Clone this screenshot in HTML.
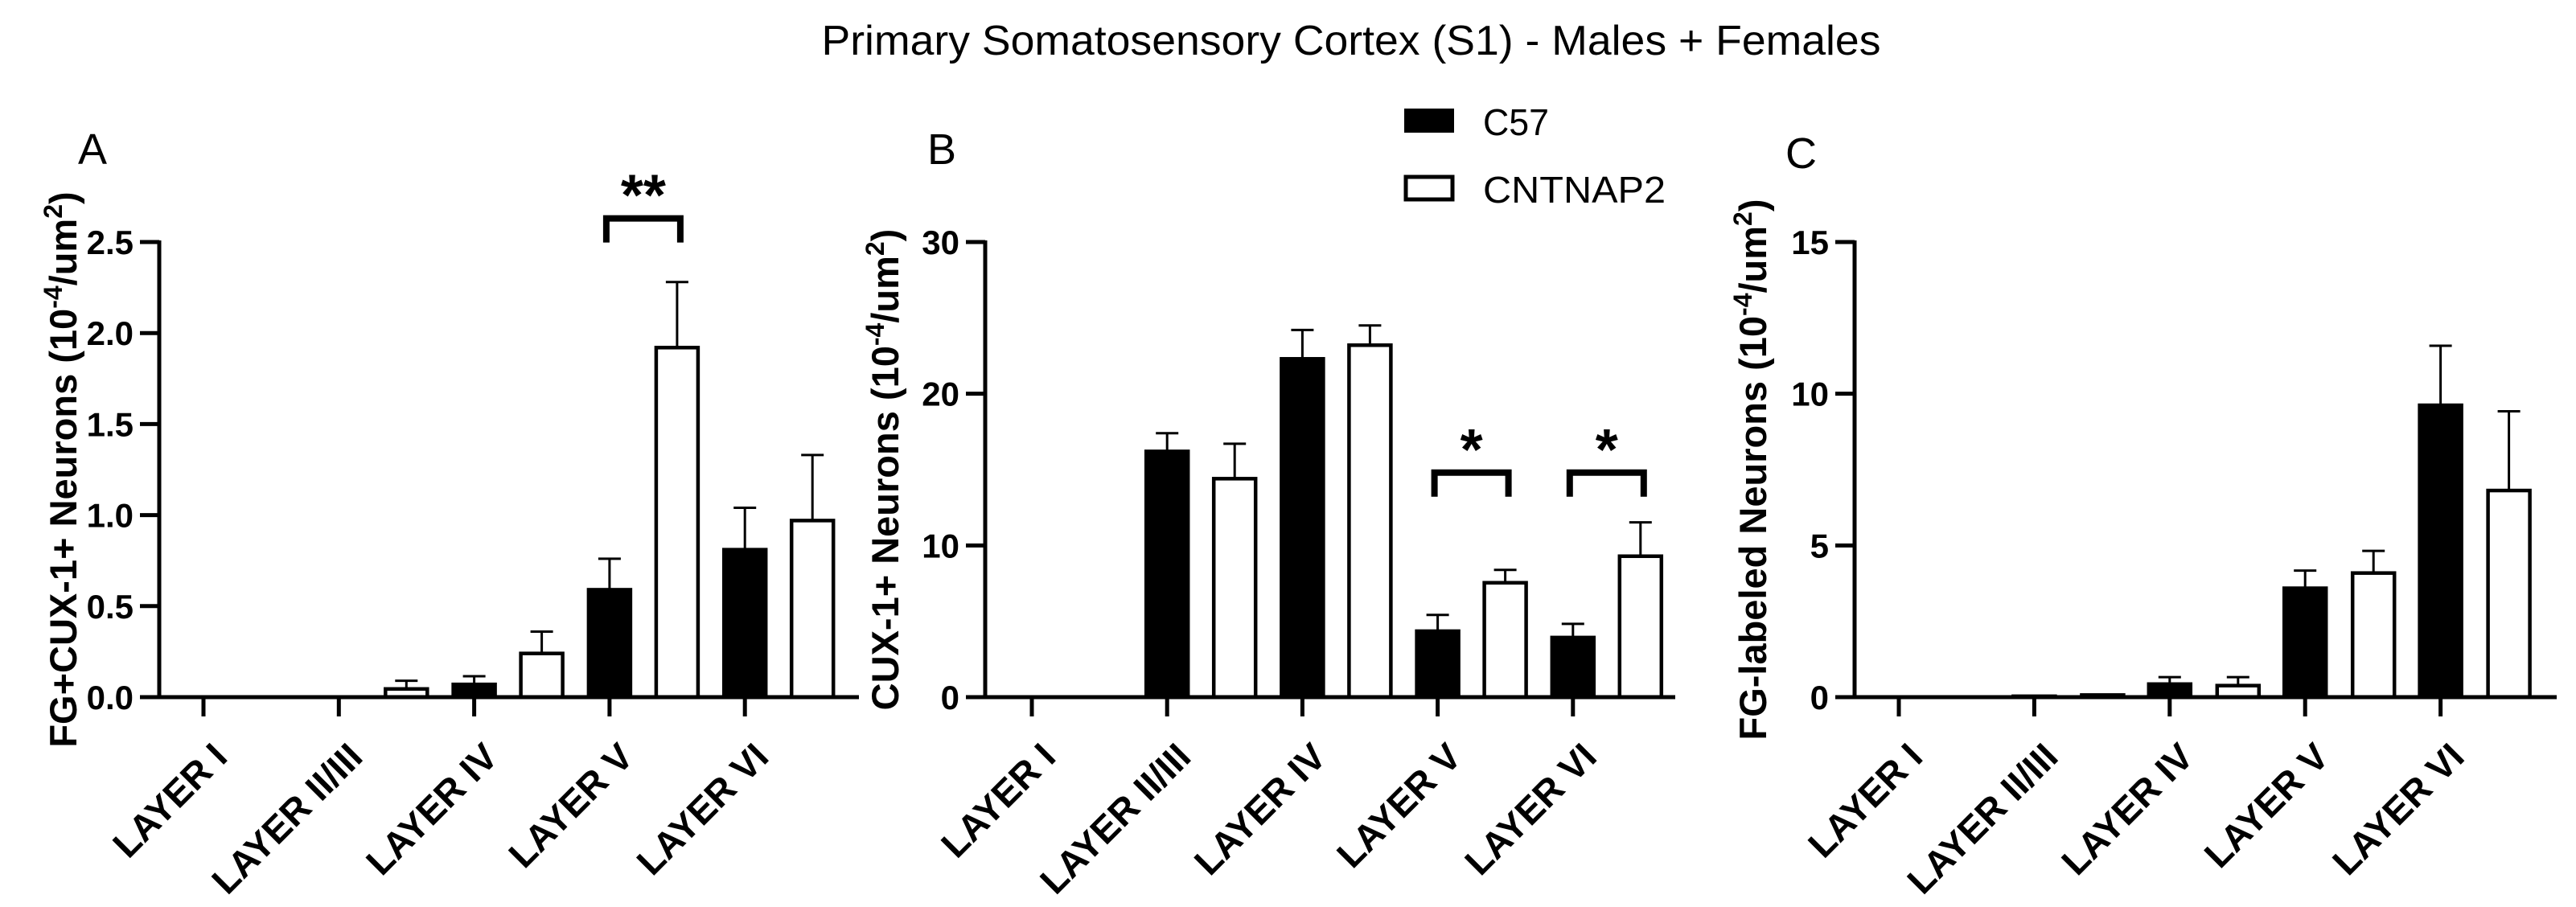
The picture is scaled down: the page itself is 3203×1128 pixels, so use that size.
<!DOCTYPE html>
<html><head><meta charset="utf-8">
<style>
html,body{margin:0;padding:0;background:#fff;}
svg{display:block;}
text{font-family:"Liberation Sans",Arial,sans-serif;fill:#000;}
</style></head>
<body>
<svg id="fig" xmlns="http://www.w3.org/2000/svg" width="3203" height="1128" viewBox="0 0 3203 1128">
<rect width="3203" height="1128" fill="#fff"/>
<text x="1680" y="68" font-size="52" text-anchor="middle" textLength="1317" lengthAdjust="spacingAndGlyphs">Primary Somatosensory Cortex (S1) - Males + Females</text>
<g>
<rect x="1746" y="135" width="62" height="30" fill="#000"/>
<text x="1844" y="168" font-size="46" textLength="82" lengthAdjust="spacingAndGlyphs">C57</text>
<rect x="1748" y="220" width="58" height="28" fill="#fff" stroke="#000" stroke-width="5"/>
<text x="1844" y="252" font-size="46" textLength="227" lengthAdjust="spacingAndGlyphs">CNTNAP2</text>
</g>
<text x="97" y="204" font-size="54">A</text>
<text x="1153" y="204" font-size="54">B</text>
<text x="2220" y="209" font-size="54">C</text>
<g id="panels"></g>
</svg>
<script>
const categories = ["LAYER I","LAYER II/III","LAYER IV","LAYER V","LAYER VI"];
const seriesNames = ["C57","CNTNAP2"];
// Panel A
const aC57 = [0, 0, 0.07, 0.59, 0.81];
const aC57Err = [0, 0, 0.115, 0.76, 1.04];
const aCnt = [0, 0.045, 0.24, 1.92, 0.97];
const aCntErr = [0, 0.09, 0.36, 2.28, 1.33];
const aTicks = ["0.0","0.5","1.0","1.5","2.0","2.5"];
// Panel B
const bC57 = [0, 16.2, 22.3, 4.35, 3.93];
const bC57Err = [0, 17.4, 24.2, 5.42, 4.83];
const bCnt = [0, 14.4, 23.2, 7.54, 9.29];
const bCntErr = [0, 16.7, 24.5, 8.39, 11.52];
const bTicks = ["0","10","20","30"];
// Panel C
const cC57 = [0, 0.03, 0.43, 3.59, 9.62];
const cC57Err = [0, 0, 0.66, 4.17, 11.58];
const cCnt = [0, 0.07, 0.38, 4.09, 6.81];
const cCntErr = [0, 0, 0.66, 4.82, 9.42];
const cTicks = ["0","5","10","15"];

const NS = "http://www.w3.org/2000/svg";
const root = document.getElementById('panels');
function mk(tag, attrs, parent){
  const e = document.createElementNS(NS, tag);
  for (const k in attrs) e.setAttribute(k, attrs[k]);
  parent.appendChild(e); return e;
}
const Y0 = 867, YTOP = 301;

function panel(cfg){
  const g = mk('g', {}, root);
  
  
  const y = v => Y0 - (v / cfg.max) * (Y0 - YTOP);
  const x = i => cfg.x0 + i * cfg.step;
  const drawBar = (i, v, err, dark, nm) => {
    const cx = x(i) + (dark ? 0 : cfg.off);
    if (err > v) {
      const l = mk('line', {x1:cx, x2:cx, y1:y(v), y2:y(err), stroke:'#000','stroke-width':3}, g);
      
      
      const c = mk('line', {x1:cx-14, x2:cx+14, y1:y(err), y2:y(err), stroke:'#000','stroke-width':3}, g);
      
      
    }
    if (v > 0) {
      const h = Y0 - y(v);
      const r = mk('rect', {x:cx-26, y:y(v), width:52, height:h, fill: dark ? '#000' : '#fff', stroke:'#000','stroke-width':4.5}, g);
      
      
    }
  };
  for (let i = 0; i < categories.length; i++) {
    drawBar(i, cfg.c57[i], cfg.c57e[i], true, 'bar-c57-' + i);
    drawBar(i, cfg.cnt[i], cfg.cnte[i], false, 'bar-cntnap2-' + i);
  }
  const ya = mk('line', {x1:cfg.ax, x2:cfg.ax, y1:YTOP-2, y2:Y0+2, stroke:'#000','stroke-width':5}, g);
  
  
  const xa = mk('line', {x1:cfg.ax-24, x2:cfg.xend, y1:Y0, y2:Y0, stroke:'#000','stroke-width':5}, g);
  
  
  cfg.ticks.forEach((t) => {
    const v = parseFloat(t);
    const ty = y(v);
    if (v > 0) {
      const tl = mk('line', {x1:cfg.ax-24, x2:cfg.ax, y1:ty, y2:ty, stroke:'#000','stroke-width':5}, g);
      
      
    }
    const tx = mk('text', {x:cfg.ax-32, y:ty+15, 'font-size':42, 'font-weight':'bold', 'text-anchor':'end'}, g);
    tx.textContent = t;
    
    
  });
  categories.forEach((c, i) => {
    const tx0 = x(i);
    const tl = mk('line', {x1:tx0, x2:tx0, y1:Y0, y2:Y0+24, stroke:'#000','stroke-width':5}, g);
    
    
    const lx = tx0 + 32, ly = 944;
    const t = mk('text', {x:lx, y:ly, 'font-size':46, 'font-weight':'bold', 'text-anchor':'end', transform:`rotate(-45 ${lx} ${ly})`}, g);
    t.textContent = c;
    
    
  });
  const tt = mk('text', {x:0, y:0, 'font-size':47, 'font-weight':'bold', 'text-anchor':'middle', transform:`translate(${cfg.tx} 584) rotate(-90)`}, g);
  
  
  tt.innerHTML = cfg.title + ' (10<tspan dy="-18" font-size="32">-4</tspan><tspan dy="18">/um</tspan><tspan dy="-18" font-size="32">2</tspan><tspan dy="18">)</tspan>';
  cfg.sig.forEach(s => {
    const x1 = x(s.i) - 4, x2 = x(s.i) + cfg.off + 4;
    const top = y(s.v), leg = 30;
    const p = mk('path', {d:`M${x1} ${top+leg} V${top} H${x2} V${top+leg}`, fill:'none', stroke:'#000', 'stroke-width':8}, g);
    
    
    const st = mk('text', {x:(x1+x2)/2, y:top-4, 'font-size':72, 'font-weight':'bold', 'text-anchor':'middle'}, g);
    st.textContent = s.label;
    
    
  });
}

panel({name:'panel-a', x0:253, step:168.3, off:84, ax:198, xend:1068, max:2.5,
  c57:aC57, c57e:aC57Err, cnt:aCnt, cnte:aCntErr, ticks:aTicks, tx:95,
  title:'FG+CUX-1+ Neurons', sig:[{i:3, v:2.63, label:'**'}]});
panel({name:'panel-b', x0:1283, step:168.2, off:84, ax:1225, xend:2083, max:30,
  c57:bC57, c57e:bC57Err, cnt:bCnt, cnte:bCntErr, ticks:bTicks, tx:1117,
  title:'CUX-1+ Neurons', sig:[{i:3, v:14.8, label:'*'},{i:4, v:14.8, label:'*'}]});
panel({name:'panel-c', x0:2361, step:168.4, off:85, ax:2306, xend:3179, max:15,
  c57:cC57, c57e:cC57Err, cnt:cCnt, cnte:cCntErr, ticks:cTicks, tx:2196,
  title:'FG-labeled Neurons', sig:[]});
</script>
</body></html>
